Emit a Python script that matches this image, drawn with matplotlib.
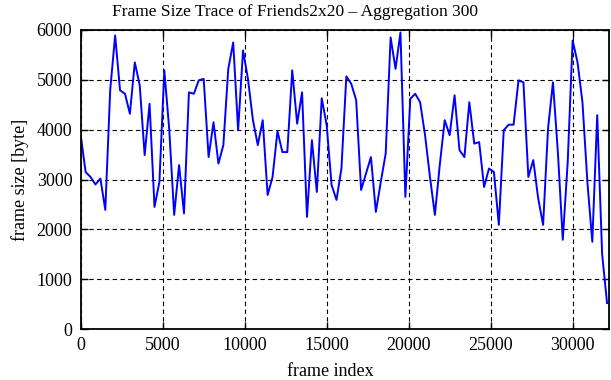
import matplotlib
matplotlib.use("Agg")
import matplotlib.pyplot as plt
import numpy as np

plt.rcParams['font.family'] = ['Liberation Serif', 'DejaVu Serif']

step = 300
frame_size = [
    3890, 3150, 3050, 2900, 3020, 2390, 4800, 5890, 4790, 4720,
    4320, 5350, 4890, 3490, 4520, 2450, 2950, 5190, 4000, 2290,
    3290, 2320, 4750, 4720, 4990, 5020, 3450, 4150, 3320, 3690,
    5220, 5750, 3990, 5590, 5020, 4200, 3690, 4190, 2690, 3050,
    3970, 3550, 3550, 5190, 4120, 4750, 2250, 3790, 2750, 4630,
    4090, 2890, 2590, 3220, 5070, 4920, 4590, 2790, 3120, 3450,
    2350, 2950, 3520, 5850, 5220, 5950, 2650, 4620, 4720, 4550,
    3890, 3050, 2290, 3300, 4190, 3890, 4690, 3590, 3450, 4550,
    3720, 3750, 2850, 3220, 3150, 2090, 3990, 4100, 4100, 4990,
    4950, 3050, 3390, 2620, 2090, 4020, 4950, 3550, 1790, 3350,
    5790, 5350, 4550, 2950, 1750, 4290, 1500, 520,
]
frame_index = np.arange(len(frame_size)) * step

x_ticks = [0, 5000, 10000, 15000, 20000, 25000, 30000]
y_ticks = [0, 1000, 2000, 3000, 4000, 5000, 6000]

W, H = 611, 380
fig = plt.figure(figsize=(W / 100, H / 100), dpi=100)
ax = fig.add_axes([80.7 / W, 1 - 329 / H, (608.7 - 80.7) / W, (329 - 30) / H])

ax.plot(frame_index, frame_size, color='#0000ff', lw=1.4)

ax.set_xlim(0, 32200)
ax.set_ylim(0, 6000)
ax.set_xticks(x_ticks)
ax.set_yticks(y_ticks)
ax.grid(True, color='black', linestyle=(0, (4, 3)), linewidth=0.8)
ax.tick_params(direction='in', top=True, right=True, length=5, width=1,
               labelsize=13, pad=6)
for s in ax.spines.values():
    s.set_linewidth(1.3)

fig.text(295 / W, 1 - 12 / H, 'Frame Size Trace of Friends2x20 \u2013 Aggregation 300',
         fontsize=12.5, ha='center', va='center')
fig.text(330 / W, 1 - 371 / H, 'frame index', fontsize=13, ha='center', va='center')
fig.text(20 / W, 1 - 180 / H, 'frame size [byte]', fontsize=13, ha='center',
         va='center', rotation=90)

fig.savefig('out.png', dpi=100)
